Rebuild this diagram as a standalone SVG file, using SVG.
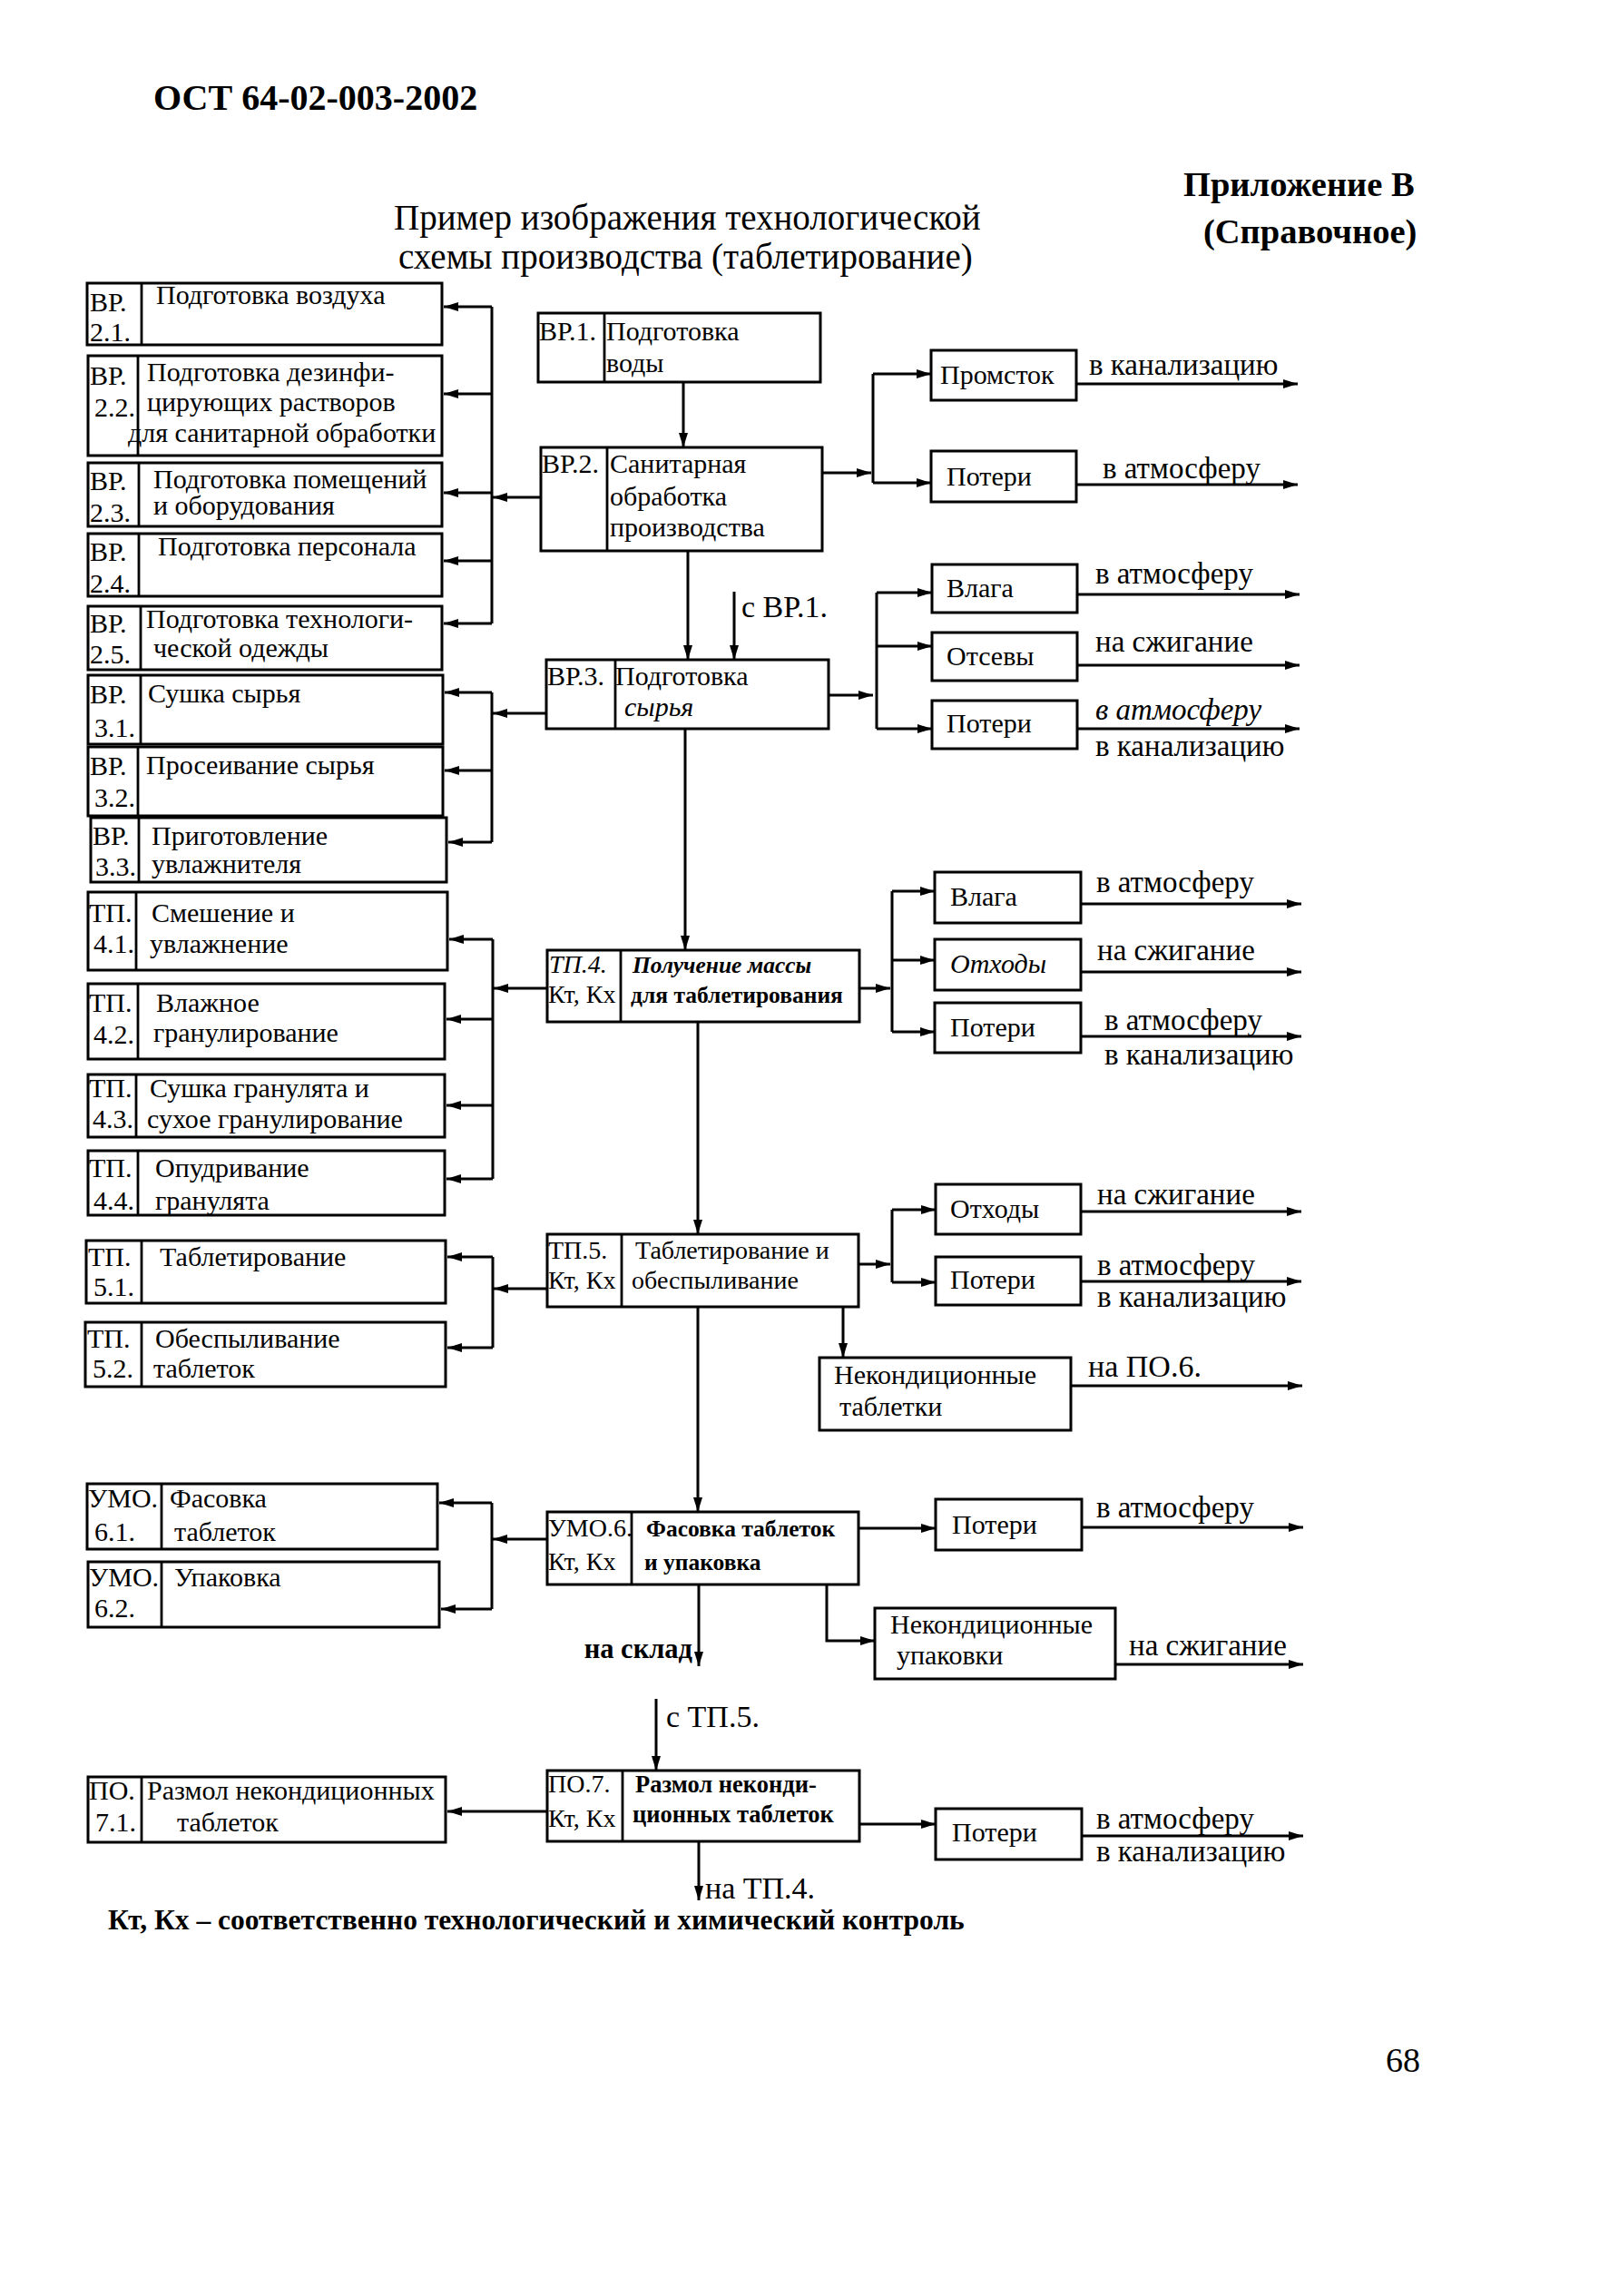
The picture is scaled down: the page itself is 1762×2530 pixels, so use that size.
<svg xmlns="http://www.w3.org/2000/svg" width="1762" height="2530" viewBox="0 0 1762 2530">
<style>
.b{fill:none;stroke:#000;stroke-width:3}
.d{stroke:#000;stroke-width:2.8}
.c{fill:none;stroke:#000;stroke-width:3}
text{font-family:"Liberation Serif","Times New Roman",serif;fill:#000}
.t{font-size:30px}
.k{font-size:28px}
.s{font-size:25.5px}
.o{font-size:33px}
.q{font-size:34px}
.i{font-style:italic}
.h{font-weight:bold}
</style>
<defs>
<marker id="ah" markerUnits="userSpaceOnUse" markerWidth="18" markerHeight="12" refX="16" refY="5" orient="auto">
<path d="M0,0 L16,5 L0,10 z" fill="#000"/>
</marker>
</defs>
<rect width="1762" height="2530" fill="#fff"/>

<g id="header">
<text x="169" y="121" class="h" font-size="40">ОСТ 64-02-003-2002</text>
<text x="1304" y="216" class="h" font-size="38.5">Приложение В</text>
<text x="1326" y="268" class="h" font-size="38.5">(Справочное)</text>
<text x="434" y="253" font-size="39">Пример изображения технологической</text>
<text x="439" y="296" font-size="39">схемы производства (таблетирование)</text>
</g>

<g id="connectors">
<path class="c" d="M596,548 H543" marker-end="url(#ah)"/>
<path class="c" d="M542,338 V687"/>
<path class="c" d="M542,338 H489" marker-end="url(#ah)"/>
<path class="c" d="M542,434 H489" marker-end="url(#ah)"/>
<path class="c" d="M542,543 H489" marker-end="url(#ah)"/>
<path class="c" d="M542,618 H489" marker-end="url(#ah)"/>
<path class="c" d="M542,687 H489" marker-end="url(#ah)"/>

<path class="c" d="M602,786 H543" marker-end="url(#ah)"/>
<path class="c" d="M542,763 V928"/>
<path class="c" d="M542,763 H490" marker-end="url(#ah)"/>
<path class="c" d="M542,849 H490" marker-end="url(#ah)"/>
<path class="c" d="M542,928 H494" marker-end="url(#ah)"/>

<path class="c" d="M603,1089 H544" marker-end="url(#ah)"/>
<path class="c" d="M543,1035 V1299"/>
<path class="c" d="M543,1035 H495" marker-end="url(#ah)"/>
<path class="c" d="M543,1123 H492" marker-end="url(#ah)"/>
<path class="c" d="M543,1218 H492" marker-end="url(#ah)"/>
<path class="c" d="M543,1299 H492" marker-end="url(#ah)"/>

<path class="c" d="M603,1420 H544" marker-end="url(#ah)"/>
<path class="c" d="M543,1385 V1485"/>
<path class="c" d="M543,1385 H493" marker-end="url(#ah)"/>
<path class="c" d="M543,1485 H493" marker-end="url(#ah)"/>

<path class="c" d="M603,1696 H543" marker-end="url(#ah)"/>
<path class="c" d="M542,1656 V1773"/>
<path class="c" d="M542,1656 H484" marker-end="url(#ah)"/>
<path class="c" d="M542,1773 H486" marker-end="url(#ah)"/>

<path class="c" d="M603,1996 H493" marker-end="url(#ah)"/>

<path class="c" d="M753,421 V493" marker-end="url(#ah)"/>
<path class="c" d="M758,607 V727" marker-end="url(#ah)"/>
<path class="c" d="M809,652 V727" marker-end="url(#ah)"/>
<path class="c" d="M755,803 V1047" marker-end="url(#ah)"/>
<path class="c" d="M769,1126 V1360" marker-end="url(#ah)"/>
<path class="c" d="M769,1440 V1666" marker-end="url(#ah)"/>
<path class="c" d="M770,1746 V1836" marker-end="url(#ah)"/>
<path class="c" d="M723,1872 V1951" marker-end="url(#ah)"/>
<path class="c" d="M770,2029 V2094" marker-end="url(#ah)"/>

<path class="c" d="M906,521 H960" marker-end="url(#ah)"/>
<path class="c" d="M962,412 V532"/>
<path class="c" d="M962,412 H1026" marker-end="url(#ah)"/>
<path class="c" d="M962,532 H1026" marker-end="url(#ah)"/>
<path class="c" d="M1186,423 H1430" marker-end="url(#ah)"/>
<path class="c" d="M1186,534 H1430" marker-end="url(#ah)"/>

<path class="c" d="M913,766 H962" marker-end="url(#ah)"/>
<path class="c" d="M966,653 V803"/>
<path class="c" d="M966,653 H1027" marker-end="url(#ah)"/>
<path class="c" d="M966,712 H1027" marker-end="url(#ah)"/>
<path class="c" d="M966,803 H1027" marker-end="url(#ah)"/>
<path class="c" d="M1187,655 H1432" marker-end="url(#ah)"/>
<path class="c" d="M1187,733 H1432" marker-end="url(#ah)"/>
<path class="c" d="M1187,803 H1432" marker-end="url(#ah)"/>

<path class="c" d="M947,1089 H981" marker-end="url(#ah)"/>
<path class="c" d="M983,982 V1137"/>
<path class="c" d="M983,982 H1030" marker-end="url(#ah)"/>
<path class="c" d="M983,1058 H1030" marker-end="url(#ah)"/>
<path class="c" d="M983,1137 H1030" marker-end="url(#ah)"/>
<path class="c" d="M1191,996 H1434" marker-end="url(#ah)"/>
<path class="c" d="M1191,1071 H1434" marker-end="url(#ah)"/>
<path class="c" d="M1191,1142 H1434" marker-end="url(#ah)"/>

<path class="c" d="M946,1393 H981" marker-end="url(#ah)"/>
<path class="c" d="M983,1333 V1413"/>
<path class="c" d="M983,1333 H1031" marker-end="url(#ah)"/>
<path class="c" d="M983,1413 H1031" marker-end="url(#ah)"/>
<path class="c" d="M1191,1335 H1434" marker-end="url(#ah)"/>
<path class="c" d="M1191,1412 H1434" marker-end="url(#ah)"/>
<path class="c" d="M929,1440 V1496" marker-end="url(#ah)"/>
<path class="c" d="M1180,1527 H1435" marker-end="url(#ah)"/>

<path class="c" d="M946,1684 H1031" marker-end="url(#ah)"/>
<path class="c" d="M1192,1683 H1436" marker-end="url(#ah)"/>
<path class="c" d="M911,1746 V1808 H964" marker-end="url(#ah)"/>
<path class="c" d="M1229,1834 H1436" marker-end="url(#ah)"/>

<path class="c" d="M947,2010 H1031" marker-end="url(#ah)"/>
<path class="c" d="M1192,2023 H1436" marker-end="url(#ah)"/>
</g>

<g id="connector-labels">
<text x="817" y="680" class="q">с ВР.1.</text>
<text x="763" y="1827" class="h" font-size="30.5" text-anchor="end">на склад</text>
<text x="734" y="1903" class="q">с ТП.5.</text>
<text x="777" y="2092" class="q">на ТП.4.</text>

<text x="1200" y="413" class="o">в канализацию</text>
<text x="1215" y="527" class="o">в атмосферу</text>
<text x="1207" y="643" class="o">в атмосферу</text>
<text x="1207" y="718" class="o">на сжигание</text>
<text x="1207" y="793" class="o i">в атмосферу</text>
<text x="1207" y="833" class="o">в канализацию</text>
<text x="1208" y="983" class="o">в атмосферу</text>
<text x="1209" y="1058" class="o">на сжигание</text>
<text x="1217" y="1135" class="o">в атмосферу</text>
<text x="1217" y="1173" class="o">в канализацию</text>
<text x="1209" y="1327" class="o">на сжигание</text>
<text x="1209" y="1405" class="o">в атмосферу</text>
<text x="1209" y="1440" class="o">в канализацию</text>
<text x="1199" y="1517" class="q">на ПО.6.</text>
<text x="1208" y="1672" class="o">в атмосферу</text>
<text x="1244" y="1824" class="o">на сжигание</text>
<text x="1208" y="2015" class="o">в атмосферу</text>
<text x="1208" y="2051" class="o">в канализацию</text>
</g>

<g id="n-vr21"><rect class="b" x="96" y="312" width="391" height="68"/><line class="d" x1="156" y1="312" x2="156" y2="380"/>
<text class="t" x="99" y="343">ВР.</text><text class="t" x="99" y="376">2.1.</text><text class="t" x="172" y="335">Подготовка воздуха</text></g>
<g id="n-vr22"><rect class="b" x="97" y="392" width="390" height="110"/><line class="d" x1="152" y1="392" x2="152" y2="502"/>
<text class="t" x="99" y="424">ВР.</text><text class="t" x="104" y="459">2.2.</text>
<text class="t" x="162" y="420">Подготовка дезинфи-</text><text class="t" x="162" y="453">цирующих растворов</text><text class="t" x="141" y="487">для санитарной обработки</text></g>
<g id="n-vr23"><rect class="b" x="97" y="510" width="390" height="70"/><line class="d" x1="153" y1="510" x2="153" y2="580"/>
<text class="t" x="99" y="540">ВР.</text><text class="t" x="99" y="575">2.3.</text>
<text class="t" x="169" y="538">Подготовка помещений</text><text class="t" x="169" y="567">и оборудования</text></g>
<g id="n-vr24"><rect class="b" x="97" y="588" width="390" height="69"/><line class="d" x1="153" y1="588" x2="153" y2="657"/>
<text class="t" x="99" y="618">ВР.</text><text class="t" x="99" y="653">2.4.</text><text class="t" x="174" y="612">Подготовка персонала</text></g>
<g id="n-vr25"><rect class="b" x="97" y="668" width="390" height="70"/><line class="d" x1="155" y1="668" x2="155" y2="738"/>
<text class="t" x="99" y="697">ВР.</text><text class="t" x="99" y="731">2.5.</text>
<text class="t" x="161" y="692">Подготовка технологи-</text><text class="t" x="169" y="724">ческой одежды</text></g>

<g id="n-vr31"><rect class="b" x="97" y="744" width="391" height="76"/><line class="d" x1="155" y1="744" x2="155" y2="820"/>
<text class="t" x="99" y="775">ВР.</text><text class="t" x="104" y="812">3.1.</text><text class="t" x="163" y="774">Сушка сырья</text></g>
<g id="n-vr32"><rect class="b" x="97" y="823" width="391" height="76"/><line class="d" x1="152" y1="823" x2="152" y2="899"/>
<text class="t" x="99" y="854">ВР.</text><text class="t" x="104" y="889">3.2.</text><text class="t" x="161" y="853">Просеивание сырья</text></g>
<g id="n-vr33"><rect class="b" x="100" y="901" width="392" height="71"/><line class="d" x1="153" y1="901" x2="153" y2="972"/>
<text class="t" x="102" y="931">ВР.</text><text class="t" x="105" y="965">3.3.</text>
<text class="t" x="167" y="931">Приготовление</text><text class="t" x="167" y="962">увлажнителя</text></g>

<g id="n-tp41"><rect class="b" x="97" y="983" width="396" height="86"/><line class="d" x1="150" y1="983" x2="150" y2="1069"/>
<text class="t" x="98" y="1016">ТП.</text><text class="t" x="103" y="1050">4.1.</text>
<text class="t" x="167" y="1016">Смешение и</text><text class="t" x="165" y="1050">увлажнение</text></g>
<g id="n-tp42"><rect class="b" x="97" y="1084" width="393" height="83"/><line class="d" x1="152" y1="1084" x2="152" y2="1167"/>
<text class="t" x="98" y="1115">ТП.</text><text class="t" x="103" y="1150">4.2.</text>
<text class="t" x="172" y="1115">Влажное</text><text class="t" x="169" y="1148">гранулирование</text></g>
<g id="n-tp43"><rect class="b" x="97" y="1184" width="393" height="69"/><line class="d" x1="150" y1="1184" x2="150" y2="1253"/>
<text class="t" x="98" y="1209">ТП.</text><text class="t" x="102" y="1243">4.3.</text>
<text class="t" x="165" y="1209">Сушка гранулята и</text><text class="t" x="162" y="1243">сухое гранулирование</text></g>
<g id="n-tp44"><rect class="b" x="97" y="1268" width="393" height="71"/><line class="d" x1="152" y1="1268" x2="152" y2="1339"/>
<text class="t" x="98" y="1297">ТП.</text><text class="t" x="103" y="1333">4.4.</text>
<text class="t" x="171" y="1297">Опудривание</text><text class="t" x="171" y="1333">гранулята</text></g>

<g id="n-tp51"><rect class="b" x="95" y="1367" width="396" height="69"/><line class="d" x1="156" y1="1367" x2="156" y2="1436"/>
<text class="t" x="97" y="1395">ТП.</text><text class="t" x="103" y="1428">5.1.</text><text class="t" x="176" y="1395">Таблетирование</text></g>
<g id="n-tp52"><rect class="b" x="94" y="1457" width="397" height="71"/><line class="d" x1="156" y1="1457" x2="156" y2="1528"/>
<text class="t" x="96" y="1485">ТП.</text><text class="t" x="102" y="1518">5.2.</text>
<text class="t" x="171" y="1485">Обеспыливание</text><text class="t" x="169" y="1518">таблеток</text></g>

<g id="n-umo61"><rect class="b" x="96" y="1635" width="386" height="72"/><line class="d" x1="178" y1="1635" x2="178" y2="1707"/>
<text class="t" x="97" y="1661">УМО.</text><text class="t" x="104" y="1698">6.1.</text>
<text class="t" x="187" y="1661">Фасовка</text><text class="t" x="192" y="1698">таблеток</text></g>
<g id="n-umo62"><rect class="b" x="97" y="1721" width="387" height="72"/><line class="d" x1="178" y1="1721" x2="178" y2="1793"/>
<text class="t" x="98" y="1748">УМО.</text><text class="t" x="104" y="1782">6.2.</text><text class="t" x="192" y="1748">Упаковка</text></g>

<g id="n-po71"><rect class="b" x="97" y="1958" width="394" height="72"/><line class="d" x1="156" y1="1958" x2="156" y2="2030"/>
<text class="t" x="98" y="1983">ПО.</text><text class="t" x="105" y="2018">7.1.</text>
<text class="t" x="162" y="1983">Размол некондиционных</text><text class="t" x="195" y="2018">таблеток</text></g>

<g id="n-vr1"><rect class="b" x="593" y="345" width="311" height="76"/><line class="d" x1="666" y1="345" x2="666" y2="421"/>
<text class="t" x="594" y="375">ВР.1.</text><text class="t" x="668" y="375">Подготовка</text><text class="t" x="668" y="410">воды</text></g>
<g id="n-vr2"><rect class="b" x="596" y="493" width="310" height="114"/><line class="d" x1="669" y1="493" x2="669" y2="607"/>
<text class="t" x="597" y="521">ВР.2.</text><text class="t" x="672" y="521">Санитарная</text><text class="t" x="672" y="557">обработка</text><text class="t" x="672" y="591">производства</text></g>
<g id="n-vr3"><rect class="b" x="602" y="727" width="311" height="76"/><line class="d" x1="678" y1="727" x2="678" y2="803"/>
<text class="t" x="603" y="755">ВР.3.</text><text class="t" x="678" y="755">Подготовка</text><text class="t i" x="688" y="789">сырья</text></g>
<g id="n-tp4"><rect class="b" x="603" y="1047" width="344" height="79"/><line class="d" x1="684" y1="1047" x2="684" y2="1126"/>
<text class="k i" x="605" y="1072">ТП.4.</text><text class="k" x="604" y="1105">Кт, Кх</text>
<text class="s i h" x="697" y="1072">Получение массы</text><text class="s h" x="695" y="1105">для таблетирования</text></g>
<g id="n-tp5"><rect class="b" x="603" y="1360" width="343" height="80"/><line class="d" x1="685" y1="1360" x2="685" y2="1440"/>
<text class="k" x="604" y="1387">ТП.5.</text><text class="k" x="604" y="1420">Кт, Кх</text>
<text class="k" x="700" y="1387">Таблетирование и</text><text class="k" x="696" y="1420">обеспыливание</text></g>
<g id="n-umo6"><rect class="b" x="603" y="1666" width="343" height="80"/><line class="d" x1="696" y1="1666" x2="696" y2="1746"/>
<text class="k" x="604" y="1693">УМО.6.</text><text class="k" x="604" y="1730">Кт, Кх</text>
<text class="s h" x="712" y="1693">Фасовка таблеток</text><text class="s h" x="710" y="1730">и упаковка</text></g>
<g id="n-po7"><rect class="b" x="603" y="1951" width="344" height="78"/><line class="d" x1="686" y1="1951" x2="686" y2="2029"/>
<text class="k" x="604" y="1975">ПО.7.</text><text class="k" x="604" y="2013">Кт, Кх</text>
<text class="h" font-size="26.5" x="700" y="1975">Размол неконди-</text><text class="h" font-size="26.5" x="697" y="2008">ционных таблеток</text></g>

<g id="n-promstok"><rect class="b" x="1026" y="386" width="160" height="55"/><text class="t" x="1036" y="423">Промсток</text></g>
<g id="n-poteri1"><rect class="b" x="1026" y="497" width="160" height="56"/><text class="t" x="1043" y="535">Потери</text></g>
<g id="n-vlaga1"><rect class="b" x="1027" y="622" width="160" height="53"/><text class="t" x="1043" y="658">Влага</text></g>
<g id="n-otsevy"><rect class="b" x="1027" y="697" width="160" height="53"/><text class="t" x="1043" y="733">Отсевы</text></g>
<g id="n-poteri2"><rect class="b" x="1027" y="772" width="160" height="53"/><text class="t" x="1043" y="807">Потери</text></g>
<g id="n-vlaga2"><rect class="b" x="1030" y="961" width="161" height="56"/><text class="t" x="1047" y="998">Влага</text></g>
<g id="n-othody1"><rect class="b" x="1030" y="1035" width="161" height="56"/><text class="t i" x="1047" y="1072">Отходы</text></g>
<g id="n-poteri3"><rect class="b" x="1030" y="1105" width="161" height="55"/><text class="t" x="1047" y="1142">Потери</text></g>
<g id="n-othody2"><rect class="b" x="1031" y="1305" width="160" height="55"/><text class="t" x="1047" y="1342">Отходы</text></g>
<g id="n-poteri4"><rect class="b" x="1031" y="1385" width="160" height="53"/><text class="t" x="1047" y="1420">Потери</text></g>
<g id="n-nekond-tab"><rect class="b" x="903" y="1496" width="277" height="80"/>
<text class="t" x="919" y="1525">Некондиционные</text><text class="t" x="925" y="1560">таблетки</text></g>
<g id="n-poteri5"><rect class="b" x="1031" y="1652" width="161" height="56"/><text class="t" x="1049" y="1690">Потери</text></g>
<g id="n-nekond-up"><rect class="b" x="964" y="1772" width="265" height="78"/>
<text class="t" x="981" y="1800">Некондиционные</text><text class="t" x="988" y="1834">упаковки</text></g>
<g id="n-poteri6"><rect class="b" x="1031" y="1993" width="161" height="56"/><text class="t" x="1049" y="2029">Потери</text></g>

<g id="footer">
<text x="119" y="2126" class="h" font-size="31.5">Кт, Кх – соответственно технологический и химический контроль</text>
<text x="1527" y="2283" font-size="38">68</text>
</g>
</svg>
